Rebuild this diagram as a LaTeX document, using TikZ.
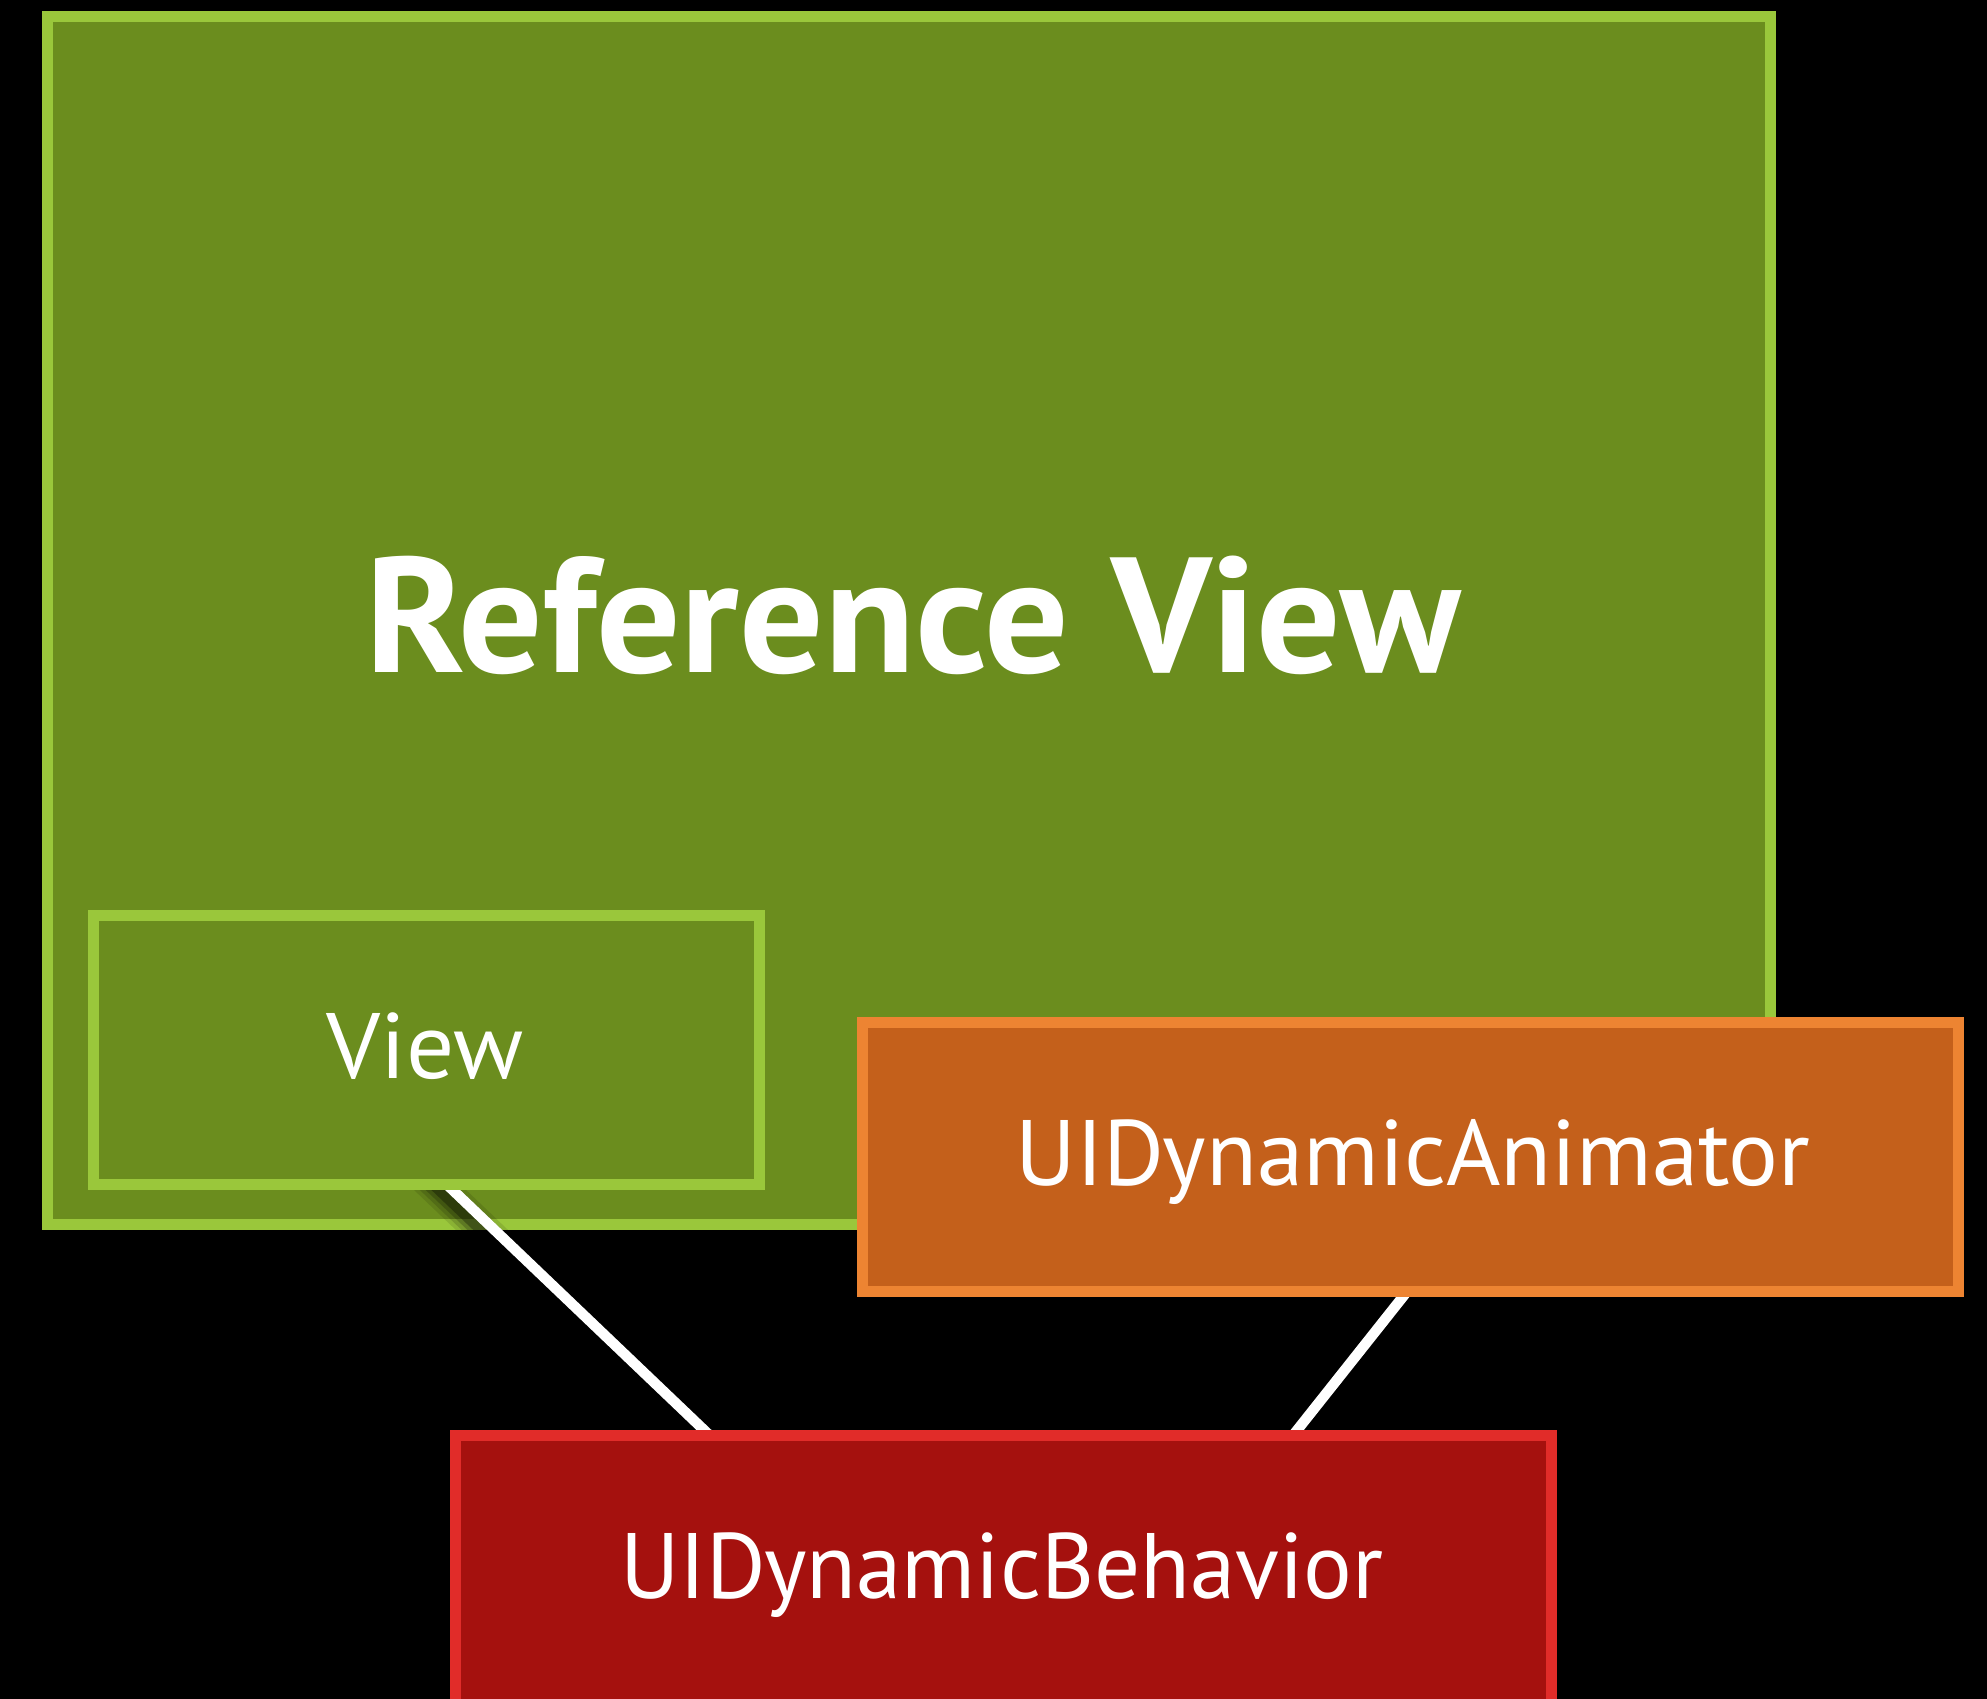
\documentclass[tikz,border=0pt]{standalone}
\usepackage{fontspec}
\usepackage{graphicx}
\setmainfont{PT Sans}
\usetikzlibrary{calc}

\definecolor{greenfill}{RGB}{107,141,30}
\definecolor{greenedge}{RGB}{154,199,59}
\definecolor{orangefill}{RGB}{196,96,27}
\definecolor{orangeedge}{RGB}{237,132,50}
\definecolor{redfill}{RGB}{165,17,14}
\definecolor{rededge}{RGB}{225,44,41}

\pgfdeclarelayer{backdrop}
\pgfdeclarelayer{base}
\pgfdeclarelayer{links}
\pgfsetlayers{backdrop,base,links,main}

\tikzset{
  panel/.style={rectangle, line width=11pt, inner sep=0pt, outer sep=0pt},
  greenpanel/.style={panel, draw=greenedge, fill=greenfill},
  orangepanel/.style={panel, draw=orangeedge, fill=orangefill},
  redpanel/.style={panel, draw=rededge, fill=redfill},
  link/.style={draw=white, line width=10.4pt},
  linkshade/.style={draw=black, line cap=butt},
  caption/.style={text=white, inner sep=0pt, outer sep=0pt, anchor=base},
}

% set a label at a given cap size and stretch it to a given width
\newcommand\boxlabel[3]{{\fontsize{#1}{#1}\selectfont\resizebox{#2}{\height}{#3}}}
\newcommand\boldlabel[3]{{\fontsize{#1}{#1}\selectfont\bfseries\resizebox{#2}{\height}{#3}}}

\begin{document}
\begin{tikzpicture}[x=1pt,y=-1pt]
  \begin{pgfonlayer}{backdrop}
    \fill[black] (0,0) rectangle (1987,1699);
  \end{pgfonlayer}
  \useasboundingbox (0,0) rectangle (1987,1699);

  % the large container view
  \begin{pgfonlayer}{base}
    \node[greenpanel, minimum width=1723pt, minimum height=1208pt] (refview) at (909,620.5) {};
  \end{pgfonlayer}

  % the inner view, the animator and the behavior
  \node[greenpanel, minimum width=666.5pt, minimum height=269pt] (view) at (426.25,1050) {};
  \node[orangepanel, minimum width=1095.7pt, minimum height=269pt] (animator) at (1410.6,1156.7) {};
  \node[redpanel, minimum width=1096pt, minimum height=269pt] (behavior) at (1003.5,1570) {};

  % labels
  \node[caption] (reflabel) at ([xshift=4.5pt,yshift=-52.2pt]refview.center)
    {\boldlabel{163.9pt}{1095pt}{Reference View}};
  \node[caption] (viewlabel) at ([xshift=-1pt,yshift=-28pt]view.center)
    {\boxlabel{92.9pt}{197pt}{View}};
  \node[caption] (animlabel) at ([xshift=2.4pt,yshift=-28.3pt]animator.center)
    {\boxlabel{92.9pt}{795pt}{UIDynamicAnimator}};
  \node[caption] (behavlabel) at ([xshift=-1.5pt,yshift=-28.3pt]behavior.center)
    {\boxlabel{92.9pt}{763pt}{UIDynamicBehavior}};

  % connector end points on the box edges
  \coordinate (a1) at ($(view.south west)!0.531!(view.south east)$);
  \coordinate (b1) at ($(behavior.north west)!0.232!(behavior.north east)$);
  \coordinate (a2) at ($(animator.south west)!0.497!(animator.south east)$);
  \coordinate (b2) at ($(behavior.north west)!0.764!(behavior.north east)$);

  \begin{pgfonlayer}{links}
    % soft shadow of the first connector on the green container
    \begin{scope}
      \clip ([xshift=-5.5pt,yshift=-5.5pt]refview.south west) rectangle ([xshift=5.5pt,yshift=-5.5pt]view.south east);
      \coordinate (s0) at ($(a1)!-0.3!(b1)+(0,12)$);
      \coordinate (s1) at ($(b1)+(0,12)$);
      \foreach \w/\o in {36/0.10,28/0.14,20/0.2,12/0.3}
        \draw[linkshade, opacity=\o, line width=\w pt] (s0) -- (s1);
    \end{scope}
    \draw[link] (a1) -- (b1);
    \draw[link] (a2) -- (b2);
  \end{pgfonlayer}
\end{tikzpicture}
\end{document}
